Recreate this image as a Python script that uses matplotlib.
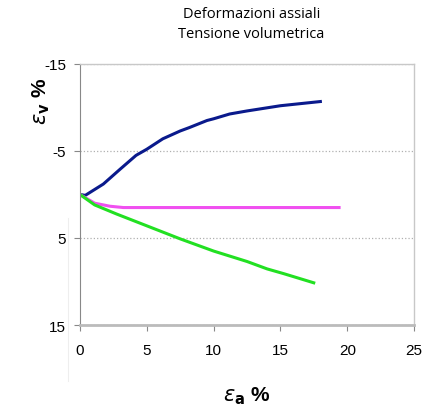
import matplotlib.pyplot as plt
from matplotlib.lines import Line2D

# Curve data (eps_a %, eps_v %)
blu_x = [0, 0.4, 1.75, 3.0, 4.2, 5.0, 6.2, 7.5, 8.2, 9.5, 10.0, 11.2, 12.5, 15.0, 18.1]
blu_y = [0, 0.1, -1.2, -2.9, -4.5, -5.2, -6.4, -7.3, -7.7, -8.5, -8.7, -9.25, -9.6, -10.2, -10.7]

rosa_x = [0, 1.1, 2.25, 3.25, 8.0, 14.0, 19.5]
rosa_y = [0, 1.0, 1.35, 1.5, 1.5, 1.5, 1.5]

verde_x = [0, 1.1, 2.75, 5.0, 7.5, 10.0, 12.5, 14.0, 15.25, 17.6]
verde_y = [0, 1.2, 2.25, 3.6, 5.1, 6.5, 7.7, 8.55, 9.1, 10.2]

xticks = [0, 5, 10, 15, 20, 25]
yticks = [-15, -5, 5, 15]

plt.rcParams['font.family'] = ['Liberation Sans', 'DejaVu Sans']
plt.rcParams['axes.unicode_minus'] = False

fig = plt.figure(figsize=(4.23, 4.06), dpi=100)
ax = fig.add_axes([0.189, 0.197, 0.790, 0.643])

ax.plot(blu_x, blu_y, color='#0a1a8c', lw=2.2, solid_capstyle='butt')
ax.plot(rosa_x, rosa_y, color='#f050f0', lw=2.2, solid_capstyle='butt')
ax.plot(verde_x, verde_y, color='#22e022', lw=2.2, solid_capstyle='butt')

ax.set_xlim(0, 25)
ax.set_ylim(15, -15)
ax.set_xticks(xticks)
ax.set_yticks(yticks)
ax.set_xticks([5, 10, 15, 20], minor=True)
ax.grid(True, which='major', axis='y', color='#b0b0b0', ls=':', lw=0.9)
ax.grid(True, which='minor', axis='x', color='#b0b0b0', ls=':', lw=0.9)

for s in ['top', 'right']:
    ax.spines[s].set_color('#c8c8c8')
    ax.spines[s].set_linewidth(1.0)
ax.spines['left'].set_color('#888888')
ax.spines['bottom'].set_color('#bbbbbb')
ax.spines['bottom'].set_linewidth(2.0)
ax.tick_params(axis='both', which='major', direction='out', length=4, color='#888888',
               labelsize=11, pad=6)
ax.tick_params(axis='x', which='major', pad=9)
ax.tick_params(axis='x', which='minor', length=0)

ax.set_xlabel(r'$\varepsilon_{\mathbf{a}}$ %', fontsize=15, fontweight='bold', labelpad=20)
ax.set_ylabel(r'$\varepsilon_{\mathbf{v}}$ %', fontsize=15, fontweight='bold', labelpad=8)
ax.yaxis.set_label_coords(-0.085, 0.86)

fig.text(0.595, 0.965, 'Deformazioni assiali', ha='center', va='center',
         fontsize=10.5, family=['Open Sans', 'DejaVu Sans'])
fig.text(0.595, 0.915, 'Tensione volumetrica', ha='center', va='center',
         fontsize=10.5, family=['Open Sans', 'DejaVu Sans'])

# faint scan artefact on the left
fig.add_artist(Line2D([0.161, 0.161], [0.06, 0.46], color='#eeeeee', lw=0.8))

fig.savefig('out.png', dpi=100)
